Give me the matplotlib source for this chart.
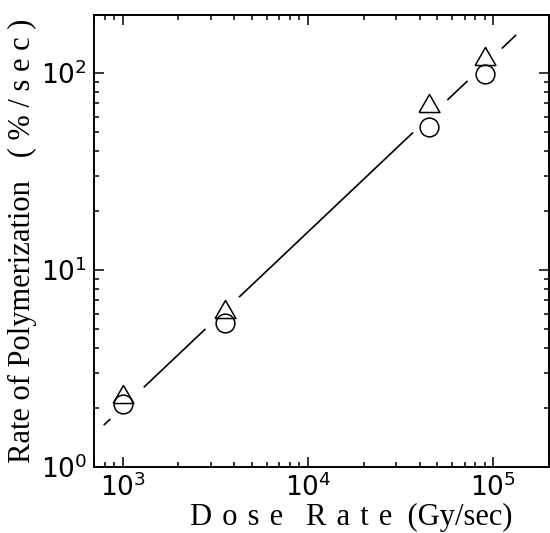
import matplotlib
matplotlib.use("Agg")
import matplotlib.pyplot as plt
from matplotlib.ticker import LogLocator, LogFormatterMathtext, NullFormatter
import numpy as np

plt.rcParams['mathtext.fontset'] = 'custom'
plt.rcParams['mathtext.rm'] = 'Liberation Sans'
plt.rcParams['mathtext.it'] = 'Liberation Sans'
plt.rcParams['mathtext.bf'] = 'Liberation Sans'

# Data
dose_rate = [1000, 3550, 45000, 90000]
rate_circle = [2.08, 5.35, 53.4, 98.9]
rate_triangle = [2.36, 6.34, 70.6, 122]
fit_x = [790, 133000]
fit_y = [1.63, 156]

hs = "\u200a"
xlabel = f"D{hs} o{hs} s{hs} e   R{hs} a{hs} t{hs} e  (Gy/sec)"
ylabel = "Rate of Polymerization   ( % / s e c )"

W, H = 550, 533
fig = plt.figure(figsize=(W / 100, H / 100), dpi=100)
ax = fig.add_axes([94 / W, 1 - 467 / H, (549 - 94) / W, (467 - 14.5) / H])

ax.set_xscale('log')
ax.set_yscale('log')
ax.set_xlim(700, 2.0e5)
ax.set_ylim(1, 198)

# fit line
ax.plot(fit_x, fit_y, color='black', lw=1.2, zorder=1, solid_capstyle='butt')
# white halos producing gaps in the line around the markers
halo_y = [np.sqrt(a * b) for a, b in zip(rate_circle, rate_triangle)]
ax.plot(dose_rate, halo_y, linestyle='none', marker='o', markersize=34,
        markerfacecolor='white', markeredgecolor='none', zorder=2)

tri = [(-1, -0.866), (1, -0.866), (0, 0.866), (-1, -0.866)]
ax.plot(dose_rate, rate_circle, linestyle='none', marker='o', markersize=13.5,
        markerfacecolor='none', markeredgecolor='black', markeredgewidth=1.1, zorder=3)
ax.plot(dose_rate, rate_triangle, linestyle='none', marker=tri, markersize=15,
        markerfacecolor='none', markeredgecolor='black', markeredgewidth=1.1, zorder=3)

for s in ax.spines.values():
    s.set_linewidth(1.4)

ax.xaxis.set_major_locator(LogLocator(base=10, numticks=10))
ax.yaxis.set_major_locator(LogLocator(base=10, numticks=10))
ax.xaxis.set_minor_locator(LogLocator(base=10, subs=np.arange(2, 10), numticks=20))
ax.yaxis.set_minor_locator(LogLocator(base=10, subs=np.arange(2, 10), numticks=20))
ax.xaxis.set_major_formatter(LogFormatterMathtext())
ax.yaxis.set_major_formatter(LogFormatterMathtext())
ax.xaxis.set_minor_formatter(NullFormatter())
ax.yaxis.set_minor_formatter(NullFormatter())

ax.tick_params(which='both', direction='in', top=True, right=True, width=1.1)
ax.tick_params(which='major', length=7.5, labelsize=19, pad=5)
ax.tick_params(which='minor', length=3.8)

ax.set_xlabel(xlabel, family=['Liberation Serif', 'DejaVu Serif'], fontsize=22)
ax.xaxis.set_label_coords(0.565, -0.08)
ax.set_ylabel(ylabel, family=['Liberation Serif', 'DejaVu Serif'], fontsize=22)
ax.yaxis.set_label_coords(-0.125, 0.5)

fig.savefig('out.png', dpi=100)
